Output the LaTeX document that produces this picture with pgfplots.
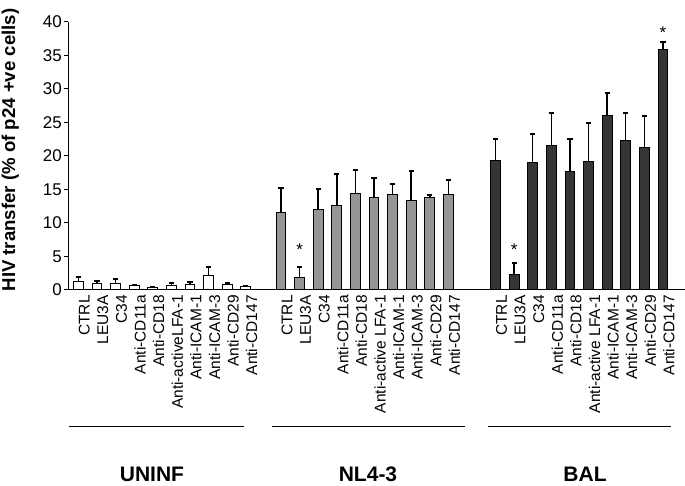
\documentclass[border=0pt]{standalone}
\usepackage{pgfplots}
\pgfplotsset{compat=1.18}
\usepackage{pgfplotstable}
\usepackage{fontspec}
\setmainfont{Liberation Sans}
\definecolor{midgray}{HTML}{959595}
\definecolor{darkgray}{HTML}{353535}

\pgfplotstableread{
x y e
78.3 1.24 0.74
96.9 1.00 0.34
115.5 1.00 0.60
134.1 0.60 0.15
152.7 0.40 0.10
171.3 0.65 0.35
189.9 0.75 0.49
208.5 2.14 1.34
227.1 0.75 0.25
245.7 0.50 0.03
}\tabA
\pgfplotstableread{
x y e
281.0 11.58 3.67
299.6 1.84 1.63
318.2 12.07 2.98
336.8 12.67 4.62
355.4 14.35 3.53
374.0 13.86 2.88
392.6 14.26 1.58
411.2 13.37 4.32
429.8 13.86 0.25
448.4 14.26 2.18
}\tabB
\pgfplotstableread{
x y e
495.5 19.37 3.08
514.1 2.34 1.68
532.7 19.03 4.17
551.3 21.50 4.90
569.9 17.63 4.82
588.5 19.18 5.72
607.1 25.97 3.43
625.7 22.30 4.10
644.3 21.27 4.63
662.9 35.80 1.20
}\tabC

\begin{document}
\begin{tikzpicture}
\useasboundingbox (0,0) rectangle (685pt,486pt);
\begin{axis}[
  at={(68pt,196pt)}, anchor=south west,
  scale only axis, width=617pt, height=268.3pt,
  xmin=68, xmax=685, ymin=0, ymax=40,
  axis lines=left, axis line style={-, line width=1pt},
  ytick={0,5,...,40},
  tick align=outside, major tick length=4pt,
  tick style={line width=1pt, black},
  x tick style={draw=none},
  xtick={78.3,96.9,115.5,134.1,152.7,171.3,189.9,208.5,227.1,245.7,
         281.0,299.6,318.2,336.8,355.4,374.0,392.6,411.2,429.8,448.4,
         495.5,514.1,532.7,551.3,569.9,588.5,607.1,625.7,644.3,662.9},
  xticklabels={CTRL,LEU3A,C34,Anti-CD11a,Anti-CD18,Anti-activeLFA-1,Anti-ICAM-1,Anti-ICAM-3,Anti-CD29,Anti-CD147,
               CTRL,LEU3A,C34,Anti-CD11a,Anti-CD18,Anti-active LFA-1,Anti-ICAM-1,Anti-ICAM-3,Anti-CD29,Anti-CD147,
               CTRL,LEU3A,C34,Anti-CD11a,Anti-CD18,Anti-active LFA-1,Anti-ICAM-1,Anti-ICAM-3,Anti-CD29,Anti-CD147},
  xticklabel style={rotate=90, anchor=east, font=\fontsize{15.5}{15.5}\selectfont, inner sep=1pt, yshift=-6pt},
  yticklabel style={font=\fontsize{17}{17}\selectfont, inner sep=2pt},
  /pgf/number format/assume math mode=true,
  bar width=9.8pt,
  clip=false,
]
\addplot[ybar, bar shift=0pt, fill=white, draw=black, line width=1pt,
  error bars/.cd, y dir=plus, y explicit, error mark=-,
  error bar style={line width=1.5pt, black},
  error mark options={rotate=90, line width=2pt, mark size=2.6pt, black}]
  table[x=x, y=y, y error=e]{\tabA};
\addplot[ybar, bar shift=0pt, fill=midgray, draw=black, line width=1pt,
  error bars/.cd, y dir=plus, y explicit, error mark=-,
  error bar style={line width=1.5pt, black},
  error mark options={rotate=90, line width=2pt, mark size=2.6pt, black}]
  table[x=x, y=y, y error=e]{\tabB};
\addplot[ybar, bar shift=0pt, fill=darkgray, draw=black, line width=1pt,
  error bars/.cd, y dir=plus, y explicit, error mark=-,
  error bar style={line width=1.5pt, black},
  error mark options={rotate=90, line width=2pt, mark size=2.6pt, black}]
  table[x=x, y=y, y error=e]{\tabC};
\addplot[sharp plot, draw=none, mark=none,
  nodes near coords={*},
  every node near coord/.append style={anchor=center, font=\fontsize{17}{17}\selectfont, inner sep=0pt}]
  coordinates {(299.6,6.0) (514.1,6.0) (662.9,38.3)};
\end{axis}
\node[rotate=90, anchor=base, font=\fontsize{18.6}{18.6}\selectfont\bfseries] at (15pt,336pt) {HIV transfer (\% of p24 +ve cells)};
\draw[line width=1pt] (69pt,59pt) -- (244pt,59pt);
\draw[line width=1pt] (272pt,59pt) -- (465pt,59pt);
\draw[line width=1pt] (488pt,59pt) -- (671pt,59pt);
\node[anchor=base, font=\fontsize{21}{21}\selectfont\bfseries] at (152pt,4pt) {UNINF};
\node[anchor=base, font=\fontsize{21}{21}\selectfont\bfseries] at (368pt,4pt) {NL4-3};
\node[anchor=base, font=\fontsize{21}{21}\selectfont\bfseries] at (585pt,4pt) {BAL};
\end{tikzpicture}
\end{document}
